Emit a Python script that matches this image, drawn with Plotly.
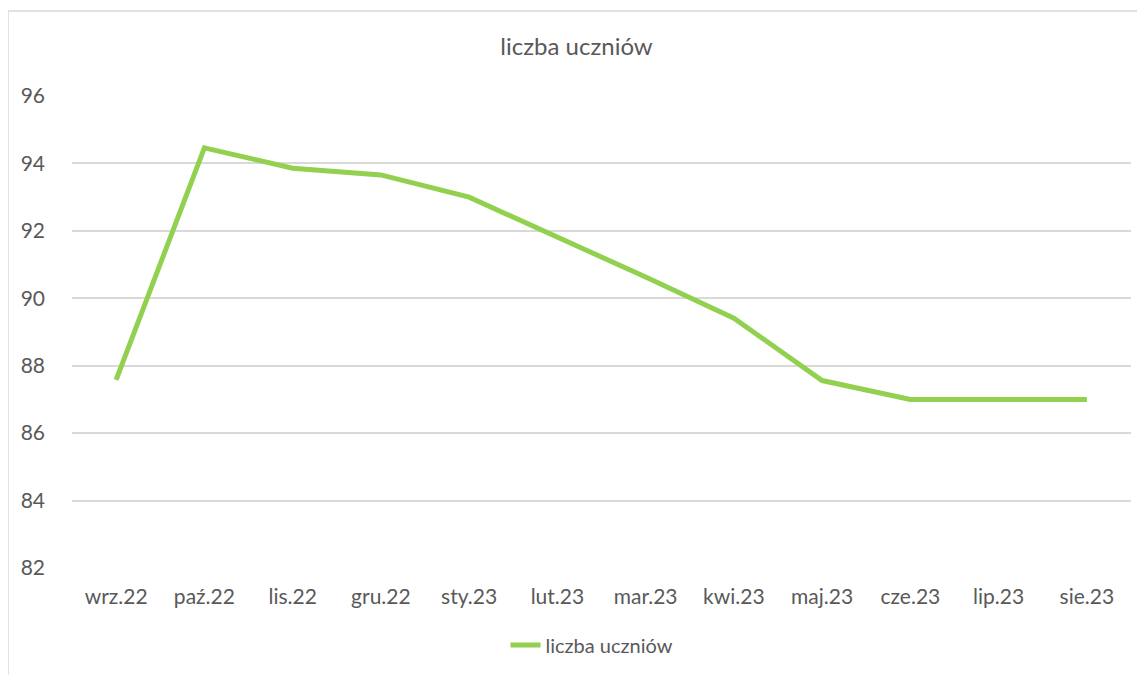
import plotly.graph_objects as go

months = ["wrz.22", "paź.22", "lis.22", "gru.22", "sty.23", "lut.23",
          "mar.23", "kwi.23", "maj.23", "cze.23", "lip.23", "sie.23"]
students = [87.58, 94.46, 93.86, 93.66, 93.0, 91.82, 90.63, 89.41, 87.56, 87.0, 87.0, 87.0]
y_ticks = [82, 84, 86, 88, 90, 92, 94, 96]

FONT = "Lato"
GREY = "#595959"

fig = go.Figure()
fig.add_trace(go.Scatter(
    x=months, y=students, mode="lines", name="liczba uczniów",
    line=dict(color="#92d050", width=5),
))

OFF = 8  # page body margin
W, H = 1145 - OFF, 675 - OFF
L, R, T, B = 72 - OFF, 14, 96 - OFF, 107
pw, ph = W - L - R, H - T - B

def px_x(p):
    return (p - OFF - L) / pw

def px_y(p):
    return (H - B - (p - OFF)) / ph

fig.update_layout(
    width=W, height=H,
    margin=dict(l=L, r=R, t=T, b=B, autoexpand=False),
    paper_bgcolor="white", plot_bgcolor="white",
    title=dict(text="liczba uczniów", x=0.5, xanchor="center",
               y=1 - (47 - OFF) / H, yanchor="middle",
               font=dict(family=FONT, size=24, color=GREY)),
    font=dict(family=FONT, color=GREY),
    showlegend=True,
    legend=dict(orientation="h", x=px_x(592), xanchor="center",
                y=px_y(645), yanchor="middle",
                font=dict(family=FONT, size=20, color=GREY)),
    xaxis=dict(type="category", range=[-0.5, len(months) - 0.5],
               showgrid=False, showline=False, ticks="", automargin=False,
               ticklabelstandoff=14,
               tickfont=dict(family=FONT, size=21, color=GREY)),
    yaxis=dict(range=[82, 96], tickvals=y_ticks, showgrid=True,
               gridcolor="#d9d9d9", gridwidth=1.5, zeroline=False,
               showline=False, ticks="", ticklabelstandoff=26, automargin=False,
               tickfont=dict(family=FONT, size=21, color=GREY)),
    shapes=[dict(type="rect", xref="paper", yref="paper",
                 x0=px_x(8), x1=px_x(1160), y0=px_y(700), y1=px_y(11),
                 line=dict(color="#d9d9d9", width=1.5), layer="below")],
)

fig.write_html("out.html")
